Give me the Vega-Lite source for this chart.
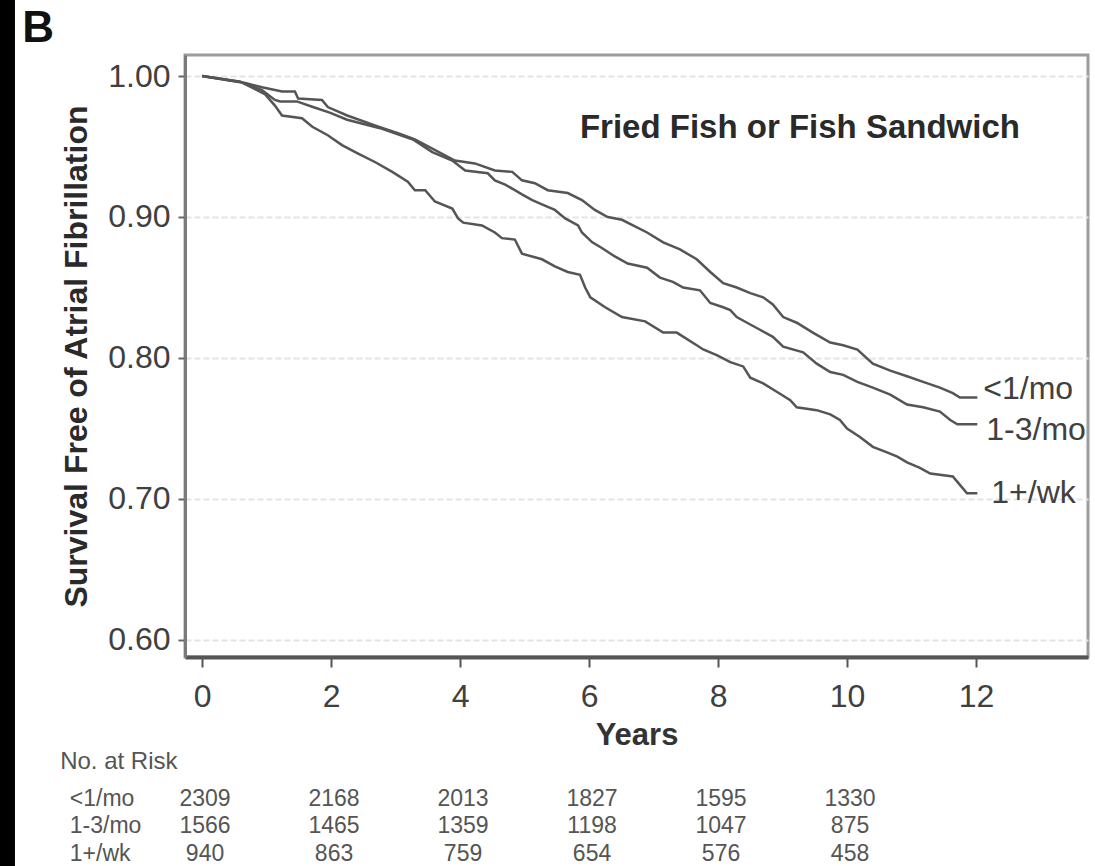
{
  "$schema": "https://vega.github.io/schema/vega-lite/v6.json",
  "autosize": "none",
  "width": 903,
  "height": 602,
  "padding": {"left": 185, "top": 55, "right": 7, "bottom": 209},
  "background": "white",
  "config": {
    "view": {"stroke": "#9c9c9c", "strokeWidth": 3},
    "font": "Liberation Sans",
    "text": {"font": "Liberation Sans"}
  },
  "datasets": {
    "curves": [
      {"group": "<1/mo", "year": 0, "surv": 1.0},
      {"group": "<1/mo", "year": 0.4, "surv": 0.997},
      {"group": "<1/mo", "year": 0.67, "surv": 0.995},
      {"group": "<1/mo", "year": 0.93, "surv": 0.992},
      {"group": "<1/mo", "year": 1.24, "surv": 0.989},
      {"group": "<1/mo", "year": 1.44, "surv": 0.989},
      {"group": "<1/mo", "year": 1.49, "surv": 0.984},
      {"group": "<1/mo", "year": 1.86, "surv": 0.983},
      {"group": "<1/mo", "year": 1.95, "surv": 0.978},
      {"group": "<1/mo", "year": 2.25, "surv": 0.972},
      {"group": "<1/mo", "year": 2.68, "surv": 0.965},
      {"group": "<1/mo", "year": 3.07, "surv": 0.959},
      {"group": "<1/mo", "year": 3.3, "surv": 0.955},
      {"group": "<1/mo", "year": 3.92, "surv": 0.94},
      {"group": "<1/mo", "year": 4.23, "surv": 0.938},
      {"group": "<1/mo", "year": 4.54, "surv": 0.933},
      {"group": "<1/mo", "year": 4.81, "surv": 0.932},
      {"group": "<1/mo", "year": 4.96, "surv": 0.926},
      {"group": "<1/mo", "year": 5.16, "surv": 0.924},
      {"group": "<1/mo", "year": 5.36, "surv": 0.919},
      {"group": "<1/mo", "year": 5.67, "surv": 0.917},
      {"group": "<1/mo", "year": 5.89, "surv": 0.912},
      {"group": "<1/mo", "year": 6.09, "surv": 0.905},
      {"group": "<1/mo", "year": 6.29, "surv": 0.9},
      {"group": "<1/mo", "year": 6.51, "surv": 0.898},
      {"group": "<1/mo", "year": 6.9, "surv": 0.889},
      {"group": "<1/mo", "year": 7.15, "surv": 0.882},
      {"group": "<1/mo", "year": 7.41, "surv": 0.877},
      {"group": "<1/mo", "year": 7.67, "surv": 0.87},
      {"group": "<1/mo", "year": 7.88, "surv": 0.861},
      {"group": "<1/mo", "year": 8.08, "surv": 0.853},
      {"group": "<1/mo", "year": 8.29, "surv": 0.85},
      {"group": "<1/mo", "year": 8.5, "surv": 0.846},
      {"group": "<1/mo", "year": 8.7, "surv": 0.843},
      {"group": "<1/mo", "year": 8.85, "surv": 0.838},
      {"group": "<1/mo", "year": 9.01, "surv": 0.829},
      {"group": "<1/mo", "year": 9.22, "surv": 0.825},
      {"group": "<1/mo", "year": 9.47, "surv": 0.818},
      {"group": "<1/mo", "year": 9.74, "surv": 0.811},
      {"group": "<1/mo", "year": 9.94, "surv": 0.809},
      {"group": "<1/mo", "year": 10.16, "surv": 0.806},
      {"group": "<1/mo", "year": 10.4, "surv": 0.796},
      {"group": "<1/mo", "year": 10.67, "surv": 0.791},
      {"group": "<1/mo", "year": 10.93, "surv": 0.787},
      {"group": "<1/mo", "year": 11.18, "surv": 0.783},
      {"group": "<1/mo", "year": 11.44, "surv": 0.779},
      {"group": "<1/mo", "year": 11.64, "surv": 0.775},
      {"group": "<1/mo", "year": 11.75, "surv": 0.772},
      {"group": "<1/mo", "year": 12.02, "surv": 0.772},
      {"group": "1-3/mo", "year": 0, "surv": 1.0},
      {"group": "1-3/mo", "year": 0.59, "surv": 0.996},
      {"group": "1-3/mo", "year": 0.93, "surv": 0.99},
      {"group": "1-3/mo", "year": 1.13, "surv": 0.983},
      {"group": "1-3/mo", "year": 1.21, "surv": 0.982},
      {"group": "1-3/mo", "year": 1.47, "surv": 0.982},
      {"group": "1-3/mo", "year": 1.72, "surv": 0.978},
      {"group": "1-3/mo", "year": 1.98, "surv": 0.974},
      {"group": "1-3/mo", "year": 2.25, "surv": 0.969},
      {"group": "1-3/mo", "year": 2.76, "surv": 0.963},
      {"group": "1-3/mo", "year": 3.27, "surv": 0.955},
      {"group": "1-3/mo", "year": 3.57, "surv": 0.946},
      {"group": "1-3/mo", "year": 3.88, "surv": 0.94},
      {"group": "1-3/mo", "year": 4.08, "surv": 0.933},
      {"group": "1-3/mo", "year": 4.43, "surv": 0.931},
      {"group": "1-3/mo", "year": 4.54, "surv": 0.926},
      {"group": "1-3/mo", "year": 4.7, "surv": 0.923},
      {"group": "1-3/mo", "year": 4.85, "surv": 0.919},
      {"group": "1-3/mo", "year": 4.96, "surv": 0.916},
      {"group": "1-3/mo", "year": 5.12, "surv": 0.912},
      {"group": "1-3/mo", "year": 5.27, "surv": 0.909},
      {"group": "1-3/mo", "year": 5.47, "surv": 0.905},
      {"group": "1-3/mo", "year": 5.63, "surv": 0.899},
      {"group": "1-3/mo", "year": 5.83, "surv": 0.894},
      {"group": "1-3/mo", "year": 5.89, "surv": 0.889},
      {"group": "1-3/mo", "year": 6.05, "surv": 0.882},
      {"group": "1-3/mo", "year": 6.2, "surv": 0.878},
      {"group": "1-3/mo", "year": 6.4, "surv": 0.872},
      {"group": "1-3/mo", "year": 6.6, "surv": 0.867},
      {"group": "1-3/mo", "year": 6.9, "surv": 0.864},
      {"group": "1-3/mo", "year": 7.1, "surv": 0.857},
      {"group": "1-3/mo", "year": 7.3, "surv": 0.854},
      {"group": "1-3/mo", "year": 7.46, "surv": 0.85},
      {"group": "1-3/mo", "year": 7.72, "surv": 0.848},
      {"group": "1-3/mo", "year": 7.88, "surv": 0.839},
      {"group": "1-3/mo", "year": 8.08, "surv": 0.836},
      {"group": "1-3/mo", "year": 8.19, "surv": 0.834},
      {"group": "1-3/mo", "year": 8.29, "surv": 0.829},
      {"group": "1-3/mo", "year": 8.45, "surv": 0.825},
      {"group": "1-3/mo", "year": 8.65, "surv": 0.82},
      {"group": "1-3/mo", "year": 8.85, "surv": 0.815},
      {"group": "1-3/mo", "year": 9.01, "surv": 0.808},
      {"group": "1-3/mo", "year": 9.32, "surv": 0.804},
      {"group": "1-3/mo", "year": 9.53, "surv": 0.796},
      {"group": "1-3/mo", "year": 9.74, "surv": 0.79},
      {"group": "1-3/mo", "year": 9.94, "surv": 0.788},
      {"group": "1-3/mo", "year": 10.16, "surv": 0.783},
      {"group": "1-3/mo", "year": 10.4, "surv": 0.779},
      {"group": "1-3/mo", "year": 10.67, "surv": 0.774},
      {"group": "1-3/mo", "year": 10.93, "surv": 0.767},
      {"group": "1-3/mo", "year": 11.18, "surv": 0.765},
      {"group": "1-3/mo", "year": 11.44, "surv": 0.762},
      {"group": "1-3/mo", "year": 11.6, "surv": 0.756},
      {"group": "1-3/mo", "year": 11.71, "surv": 0.753},
      {"group": "1-3/mo", "year": 12.02, "surv": 0.753},
      {"group": "1+/wk", "year": 0, "surv": 1.0},
      {"group": "1+/wk", "year": 0.59, "surv": 0.996},
      {"group": "1+/wk", "year": 0.98, "surv": 0.987},
      {"group": "1+/wk", "year": 1.13, "surv": 0.979},
      {"group": "1+/wk", "year": 1.24, "surv": 0.972},
      {"group": "1+/wk", "year": 1.55, "surv": 0.97},
      {"group": "1+/wk", "year": 1.71, "surv": 0.964},
      {"group": "1+/wk", "year": 1.95, "surv": 0.958},
      {"group": "1+/wk", "year": 2.17, "surv": 0.951},
      {"group": "1+/wk", "year": 2.42, "surv": 0.945},
      {"group": "1+/wk", "year": 2.68, "surv": 0.939},
      {"group": "1+/wk", "year": 2.95, "surv": 0.932},
      {"group": "1+/wk", "year": 3.19, "surv": 0.925},
      {"group": "1+/wk", "year": 3.3, "surv": 0.919},
      {"group": "1+/wk", "year": 3.46, "surv": 0.919},
      {"group": "1+/wk", "year": 3.61, "surv": 0.911},
      {"group": "1+/wk", "year": 3.88, "surv": 0.906},
      {"group": "1+/wk", "year": 3.97, "surv": 0.899},
      {"group": "1+/wk", "year": 4.05, "surv": 0.896},
      {"group": "1+/wk", "year": 4.34, "surv": 0.894},
      {"group": "1+/wk", "year": 4.54, "surv": 0.889},
      {"group": "1+/wk", "year": 4.65, "surv": 0.885},
      {"group": "1+/wk", "year": 4.85, "surv": 0.884},
      {"group": "1+/wk", "year": 4.96, "surv": 0.874},
      {"group": "1+/wk", "year": 5.27, "surv": 0.87},
      {"group": "1+/wk", "year": 5.47, "surv": 0.865},
      {"group": "1+/wk", "year": 5.67, "surv": 0.861},
      {"group": "1+/wk", "year": 5.86, "surv": 0.859},
      {"group": "1+/wk", "year": 5.94, "surv": 0.85},
      {"group": "1+/wk", "year": 6.02, "surv": 0.843},
      {"group": "1+/wk", "year": 6.25, "surv": 0.836},
      {"group": "1+/wk", "year": 6.51, "surv": 0.829},
      {"group": "1+/wk", "year": 6.87, "surv": 0.826},
      {"group": "1+/wk", "year": 7.15, "surv": 0.818},
      {"group": "1+/wk", "year": 7.36, "surv": 0.818},
      {"group": "1+/wk", "year": 7.67, "surv": 0.809},
      {"group": "1+/wk", "year": 7.77, "surv": 0.806},
      {"group": "1+/wk", "year": 7.98, "surv": 0.802},
      {"group": "1+/wk", "year": 8.19, "surv": 0.797},
      {"group": "1+/wk", "year": 8.39, "surv": 0.794},
      {"group": "1+/wk", "year": 8.5, "surv": 0.786},
      {"group": "1+/wk", "year": 8.7, "surv": 0.782},
      {"group": "1+/wk", "year": 8.91, "surv": 0.776},
      {"group": "1+/wk", "year": 9.12, "surv": 0.77},
      {"group": "1+/wk", "year": 9.22, "surv": 0.765},
      {"group": "1+/wk", "year": 9.53, "surv": 0.763},
      {"group": "1+/wk", "year": 9.74, "surv": 0.76},
      {"group": "1+/wk", "year": 9.89, "surv": 0.756},
      {"group": "1+/wk", "year": 10.0, "surv": 0.75},
      {"group": "1+/wk", "year": 10.2, "surv": 0.744},
      {"group": "1+/wk", "year": 10.4, "surv": 0.737},
      {"group": "1+/wk", "year": 10.62, "surv": 0.733},
      {"group": "1+/wk", "year": 10.78, "surv": 0.73},
      {"group": "1+/wk", "year": 10.93, "surv": 0.726},
      {"group": "1+/wk", "year": 11.13, "surv": 0.722},
      {"group": "1+/wk", "year": 11.29, "surv": 0.718},
      {"group": "1+/wk", "year": 11.64, "surv": 0.716},
      {"group": "1+/wk", "year": 11.75, "surv": 0.71},
      {"group": "1+/wk", "year": 11.86, "surv": 0.704},
      {"group": "1+/wk", "year": 12.02, "surv": 0.704}
    ],
    "risk": [
      {"group": "<1/mo", "year": 0, "n": 2309},
      {"group": "<1/mo", "year": 2, "n": 2168},
      {"group": "<1/mo", "year": 4, "n": 2013},
      {"group": "<1/mo", "year": 6, "n": 1827},
      {"group": "<1/mo", "year": 8, "n": 1595},
      {"group": "<1/mo", "year": 10, "n": 1330},
      {"group": "1-3/mo", "year": 0, "n": 1566},
      {"group": "1-3/mo", "year": 2, "n": 1465},
      {"group": "1-3/mo", "year": 4, "n": 1359},
      {"group": "1-3/mo", "year": 6, "n": 1198},
      {"group": "1-3/mo", "year": 8, "n": 1047},
      {"group": "1-3/mo", "year": 10, "n": 875},
      {"group": "1+/wk", "year": 0, "n": 940},
      {"group": "1+/wk", "year": 2, "n": 863},
      {"group": "1+/wk", "year": 4, "n": 759},
      {"group": "1+/wk", "year": 6, "n": 654},
      {"group": "1+/wk", "year": 8, "n": 576},
      {"group": "1+/wk", "year": 10, "n": 458}
    ]
  },
  "encoding": {
    "x": {
      "type": "quantitative",
      "scale": {"domain": [-0.264, 13.736], "nice": false, "zero": false},
      "axis": {
        "values": [0, 2, 4, 6, 8, 10, 12],
        "title": "Years",
        "grid": false,
        "domainColor": "#555555",
        "domainWidth": 4,
        "tickColor": "#555555",
        "tickWidth": 2,
        "tickSize": 10,
        "labelFont": "Liberation Sans",
        "labelFontSize": 32,
        "labelColor": "#404040",
        "labelPadding": 14,
        "titleFont": "Liberation Sans",
        "titleFontSize": 31,
        "titleFontWeight": "bold",
        "titleColor": "#333333",
        "titlePadding": 8
      }
    },
    "y": {
      "type": "quantitative",
      "scale": {"domain": [0.5879, 1.0149], "nice": false, "zero": false},
      "axis": {
        "values": [0.6, 0.7, 0.8, 0.9, 1.0],
        "format": ".2f",
        "title": "Survival Free of Atrial Fibrillation",
        "grid": true,
        "gridColor": "#e4e4e4",
        "gridDash": [6, 3],
        "gridWidth": 2,
        "domainColor": "#7a7a7a",
        "domainWidth": 3,
        "tickColor": "#666666",
        "tickWidth": 2,
        "tickSize": 7,
        "labelFont": "Liberation Sans",
        "labelFontSize": 32,
        "labelColor": "#404040",
        "labelPadding": 8,
        "titleFont": "Liberation Sans",
        "titleFontSize": 32,
        "titleFontWeight": "bold",
        "titleColor": "#2a2a2a",
        "titlePadding": 14
      }
    }
  },
  "layer": [
    {
      "data": {"values": [{}]},
      "mark": {"type": "rect", "color": "black"},
      "encoding": {
        "x": {"datum": -3.4, "type": "quantitative"},
        "x2": {"datum": -2.9},
        "y": {"datum": 1.1, "type": "quantitative"},
        "y2": {"datum": 0.3}
      }
    },
    {
      "data": {"name": "curves"},
      "mark": {"type": "line", "color": "#555555", "strokeWidth": 2.5},
      "encoding": {
        "x": {"field": "year", "type": "quantitative"},
        "y": {"field": "surv", "type": "quantitative"},
        "detail": {"field": "group"}
      }
    },
    {
      "data": {"name": "curves"},
      "transform": [{"filter": "datum.group === '<1/mo' && datum.year > 12"}],
      "mark": {"type": "text", "align": "left", "baseline": "middle", "dx": 6, "dy": -8, "fontSize": 32, "color": "#404040"},
      "encoding": {
        "x": {"field": "year", "type": "quantitative"},
        "y": {"field": "surv", "type": "quantitative"},
        "text": {"field": "group"}
      }
    },
    {
      "data": {"name": "curves"},
      "transform": [{"filter": "datum.group === '1-3/mo' && datum.year > 12"}],
      "mark": {"type": "text", "align": "left", "baseline": "middle", "dx": 9, "dy": 6, "fontSize": 32, "color": "#404040"},
      "encoding": {
        "x": {"field": "year", "type": "quantitative"},
        "y": {"field": "surv", "type": "quantitative"},
        "text": {"field": "group"}
      }
    },
    {
      "data": {"name": "curves"},
      "transform": [{"filter": "datum.group === '1+/wk' && datum.year > 12"}],
      "mark": {"type": "text", "align": "left", "baseline": "middle", "dx": 14, "dy": 0, "fontSize": 32, "color": "#404040"},
      "encoding": {
        "x": {"field": "year", "type": "quantitative"},
        "y": {"field": "surv", "type": "quantitative"},
        "text": {"field": "group"}
      }
    },
    {
      "data": {"values": [{"label": "Fried Fish or Fish Sandwich"}]},
      "mark": {"type": "text", "align": "center", "baseline": "middle", "fontSize": 33, "fontWeight": "bold", "color": "#2a2a2a"},
      "encoding": {
        "x": {"datum": 9.27, "type": "quantitative"},
        "y": {"datum": 0.963, "type": "quantitative"},
        "text": {"field": "label"}
      }
    },
    {
      "data": {"values": [{"label": "B"}]},
      "mark": {"type": "text", "align": "center", "baseline": "middle", "fontSize": 44, "fontWeight": "bold", "color": "#111111"},
      "encoding": {
        "x": {"datum": -2.54, "type": "quantitative"},
        "y": {"datum": 1.033, "type": "quantitative"},
        "text": {"field": "label"}
      }
    },
    {
      "data": {"values": [{"label": "No. at Risk"}]},
      "mark": {"type": "text", "align": "left", "baseline": "middle", "fontSize": 24, "color": "#555555"},
      "encoding": {
        "x": {"datum": -2.2, "type": "quantitative"},
        "y": {"datum": 0.5135, "type": "quantitative"},
        "text": {"field": "label"}
      }
    },
    {
      "data": {"name": "risk"},
      "transform": [{"filter": "datum.group === '<1/mo'"}],
      "mark": {"type": "text", "align": "center", "baseline": "middle", "fontSize": 23, "color": "#555555", "dx": 3},
      "encoding": {
        "x": {"field": "year", "type": "quantitative"},
        "y": {"datum": 0.4872, "type": "quantitative"},
        "text": {"field": "n"}
      }
    },
    {
      "data": {"name": "risk"},
      "transform": [{"filter": "datum.group === '1-3/mo'"}],
      "mark": {"type": "text", "align": "center", "baseline": "middle", "fontSize": 23, "color": "#555555", "dx": 3},
      "encoding": {
        "x": {"field": "year", "type": "quantitative"},
        "y": {"datum": 0.4681, "type": "quantitative"},
        "text": {"field": "n"}
      }
    },
    {
      "data": {"name": "risk"},
      "transform": [{"filter": "datum.group === '1+/wk'"}],
      "mark": {"type": "text", "align": "center", "baseline": "middle", "fontSize": 23, "color": "#555555", "dx": 3},
      "encoding": {
        "x": {"field": "year", "type": "quantitative"},
        "y": {"datum": 0.4482, "type": "quantitative"},
        "text": {"field": "n"}
      }
    },
    {
      "data": {"name": "risk"},
      "transform": [{"filter": "datum.group === '<1/mo' && datum.year === 0"}],
      "mark": {"type": "text", "align": "left", "baseline": "middle", "fontSize": 23, "color": "#555555"},
      "encoding": {
        "x": {"datum": -2.05, "type": "quantitative"},
        "y": {"datum": 0.4872, "type": "quantitative"},
        "text": {"field": "group"}
      }
    },
    {
      "data": {"name": "risk"},
      "transform": [{"filter": "datum.group === '1-3/mo' && datum.year === 0"}],
      "mark": {"type": "text", "align": "left", "baseline": "middle", "fontSize": 23, "color": "#555555"},
      "encoding": {
        "x": {"datum": -2.05, "type": "quantitative"},
        "y": {"datum": 0.4681, "type": "quantitative"},
        "text": {"field": "group"}
      }
    },
    {
      "data": {"name": "risk"},
      "transform": [{"filter": "datum.group === '1+/wk' && datum.year === 0"}],
      "mark": {"type": "text", "align": "left", "baseline": "middle", "fontSize": 23, "color": "#555555"},
      "encoding": {
        "x": {"datum": -2.05, "type": "quantitative"},
        "y": {"datum": 0.4482, "type": "quantitative"},
        "text": {"field": "group"}
      }
    }
  ]
}
